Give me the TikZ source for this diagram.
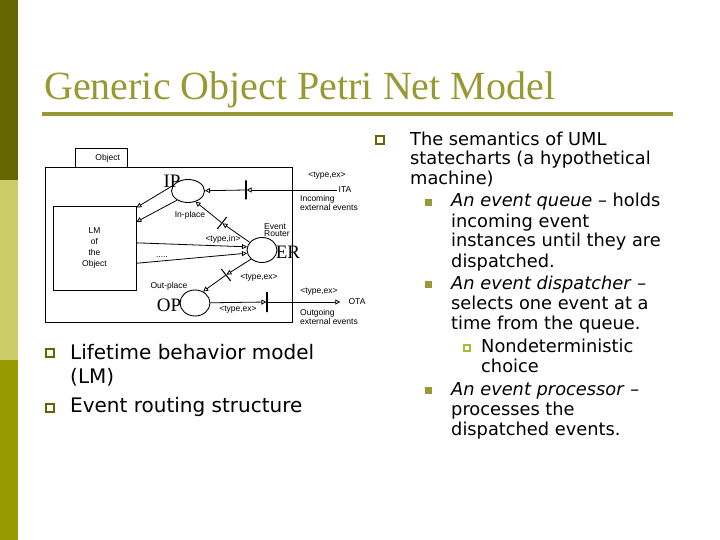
\documentclass[tikz,border=0pt]{standalone}
\usepackage{fontspec}
\setmainfont{Liberation Serif}
\newfontfamily\verdfont{DejaVu Sans}
\newfontfamily\diagfont{Liberation Sans}
\usepackage{tikz}
\usetikzlibrary{arrows.meta, shapes.geometric, positioning}
\definecolor{OliveDark}{RGB}{102,102,0}
\definecolor{OliveLight}{RGB}{204,204,102}
\definecolor{OliveMid}{RGB}{153,153,0}
\definecolor{TitleOlive}{RGB}{153,153,51}
\definecolor{SubBullet}{RGB}{170,187,51}

\begin{document}
\begin{tikzpicture}[x=1pt, y=-1pt,
    lbl/.style={font=\diagfont\fontsize{8.5}{7}\selectfont, inner sep=0pt, align=left},
    place/.style={ellipse, draw, line width=0.9pt, inner sep=0pt},
    trans/.style={rectangle, draw, line width=1.1pt, minimum width=0pt, inner sep=0pt},
    arc/.style={line width=0.8pt, -{Triangle[open, length=5pt, width=5pt]}},
    body/.style={font=\verdfont\fontsize{17.8}{20}\selectfont, anchor=base west, inner sep=0pt}]
    \useasboundingbox (0,0) rectangle (720,540);

    % 左侧色条
    \fill[OliveDark] (0,0) rectangle (18,180);
    \fill[OliveLight] (0,180) rectangle (18,360);
    \fill[OliveMid] (0,360) rectangle (18,540);

    % 标题
    \node[anchor=base west, inner sep=0pt, TitleOlive, font=\fontsize{40}{40}\selectfont] (title) at (44,100) {Generic Object Petri Net Model};
    \fill[TitleOlive] (42,112) rectangle (673,116);

    % --- 对象框 ---
    \node[draw, line width=0.9pt, minimum width=247pt, minimum height=155pt] (obj) at (168.5,244.5) {};
    \node[draw, line width=0.9pt, lbl, text width=38pt, align=right, inner xsep=7pt, minimum height=19pt] (tab) at (101,158) {Object};
    \node[draw, line width=0.9pt, lbl, minimum width=83pt, minimum height=84pt, align=center, font=\diagfont\fontsize{8.5}{10.7}\selectfont] (LM) at (94.5,248) {LM\\of\\the\\Object};

    % 位置 (places)
    \node[place, minimum width=33pt, minimum height=23pt] (IP) at (188,191) {};
    \node[place, minimum width=30pt, minimum height=25pt] (ER) at (262,250) {};
    \node[place, minimum width=30pt, minimum height=26pt] (OP) at (195,303) {};
    \node[font=\fontsize{19}{19}\selectfont, inner sep=0pt] (IPname) at (172,181) {IP};
    \node[font=\fontsize{19}{19}\selectfont, inner sep=0pt] (ERname) at (288,252) {ER};
    \node[font=\fontsize{19}{19}\selectfont, inner sep=0pt] (OPname) at (169,305) {OP};

    % 变迁 (transitions)
    \node[trans, minimum height=19pt] (tIn) at (246,190) {};
    \node[trans, minimum height=20pt] (tOut) at (267,302) {};
    \node[trans, minimum height=15pt, rotate=-38] (tR1) at (222,223) {};
    \node[trans, minimum height=15pt, rotate=38] (tR2) at (226,275) {};

    % 外部事件
    \node[lbl] (ITA) at (345,190) {ITA};
    \node[lbl] (OTA) at (357,302) {OTA};

    % 弧
    \draw[arc, shorten <=2pt] (ITA) -- (tIn);
    \draw[arc] (tIn) -- (IP);
    \draw[arc] (IP.160) -- (LM.44);
    \draw[arc] (IP.220) -- (LM.32);
    \draw[arc] (LM.7) -- (ER.168);
    \draw[arc] (LM.-20) -- (ER.192);
    \draw[arc] (ER.148) -- (tR1);
    \draw[arc] (tR1) -- (IP.-55);
    \draw[arc] (ER.220) -- (tR2);
    \draw[arc] (tR2) -- (OP.55);
    \draw[arc] (OP) -- (tOut);
    \draw[arc, shorten >=8pt] (tOut) -- (OTA);

    % 标签
    \node[lbl] (typeITA) at (327,176) {<type,ex>};
    \node[lbl] (incoming) at (329,203) {Incoming\\external events};
    \node[lbl] (inplace) at (190,215) {In-place};
    \node[lbl] (router) at (277,230) {Event\\Router};
    \node[lbl] (typeIn) at (223,239) {<type,in>};
    \node[lbl] (dots) at (162,257) {.....};
    \node[lbl] (typeR2) at (259,278) {<type,ex>};
    \node[lbl] (outplace) at (169,286) {Out-place};
    \node[lbl] (typeOP) at (238,310) {<type,ex>};
    \node[lbl] (typeOTA) at (319,292) {<type,ex>};
    \node[lbl] (outgoing) at (329,317) {Outgoing\\external events};

    % 左下要点
    \node[draw=OliveDark, line width=1.6pt, fill=white, minimum size=8pt, inner sep=0pt] (bl1) at (50,353) {};
    \node[draw=OliveDark, line width=1.6pt, fill=white, minimum size=8pt, inner sep=0pt] (bl2) at (50,408) {};
    \foreach \y/\t [count=\i] in {359/Lifetime behavior model, 383/(LM), 412/Event routing structure}
        \node[body, font=\verdfont\fontsize{20}{24}\selectfont] (left\i) at (70,\y) {\t};

    % 右侧要点
    \node[draw=OliveDark, line width=1.6pt, fill=white, minimum size=8pt, inner sep=0pt] (br0) at (380,140) {};
    \foreach \y/\t [count=\i] in {146/The semantics of UML, 165/statecharts (a hypothetical, 185/machine)}
        \node[body] (sem\i) at (410,\y) {\t};
    \foreach \y [count=\i] in {203,284,390}
        \node[fill=TitleOlive, minimum size=7pt, inner sep=0pt] (bm\i) at (428,\y) {};
    \foreach \y/\t [count=\i] in {207/{\textit{An event queue} – holds}, 227/incoming event, 247/instances until they are, 267/dispatched.,
        289/{\textit{An event dispatcher} –}, 309/selects one event at a, 329/time from the queue.,
        395/{\textit{An event processor} –}, 415/processes the, 435/dispatched events.}
        \node[body] (item\i) at (451,\y) {\t};
    \node[draw=SubBullet, line width=1.3pt, fill=white, minimum size=6pt, inner sep=0pt] (bs) at (467,348) {};
    \foreach \y/\t [count=\i] in {352/Nondeterministic, 372/choice}
        \node[body] (sub\i) at (481,\y) {\t};
\end{tikzpicture}
\end{document}
